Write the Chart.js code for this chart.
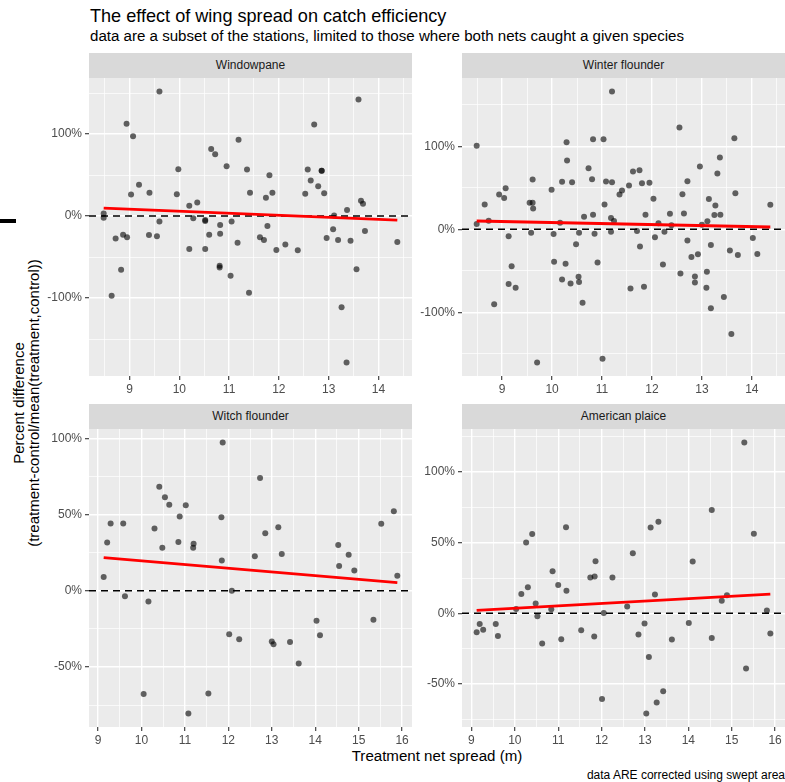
<!DOCTYPE html>
<html>
<head>
<meta charset="utf-8">
<script src="https://cdn.jsdelivr.net/npm/chart.js@4.4.1/dist/chart.umd.min.js"></script>
<style>
  html, body { margin: 0; padding: 0; background: #fff; overflow: hidden; }
  body { width: 785px; height: 782px; position: relative; font-family: "Liberation Sans", Arial, sans-serif; }
  .txt { position: absolute; white-space: nowrap; }
  .strip { position: absolute; background: #D9D9D9; color: #1A1A1A; font-size: 12px; text-align: center; height: 25px; line-height: 25px; }
  canvas { position: absolute; }
</style>
</head>
<body>
<div class="txt" style="left:90px; top:6.5px; font-size:18.1px; line-height:18.1px; color:#000;">The effect of wing spread on catch efficiency</div>
<div class="txt" style="left:90px; top:28px; font-size:15.1px; line-height:15.1px; color:#000;">data are a subset of the stations, limited to those where both nets caught a given species</div>

<div class="txt" style="left:-174.5px; top:387.5px; width:400px; height:30px; font-size:15px; line-height:15px; text-align:center; transform:rotate(-90deg); color:#000;">Percent difference<br>(treatment-control/mean(treatment,control))</div>
<div class="txt" style="left:237px; top:747.5px; width:400px; text-align:center; font-size:15.1px; line-height:15.1px; color:#000;">Treatment net spread (m)</div>
<div class="txt" style="right:0; top:769px; font-size:12px; line-height:12px; color:#000;">data ARE corrected using swept area</div>
<div style="position:absolute; left:0; top:219px; width:16px; height:4px; background:#000;"></div>

<div id="panels"></div>

<script>
// Windowpane
const windowpaneX = [9.60, 13.60, 8.94, 12.71, 9.07, 11.19, 10.64, 10.72, 10.95, 9.98, 11.36, 12.58, 12.86, 12.86, 11.81, 12.64, 12.79, 9.19, 9.03, 9.40, 9.95, 11.42, 11.87, 12.53, 12.91, 11.74, 13.65, 13.69, 10.36, 10.20, 13.37, 8.48, 8.48, 13.11, 10.28, 10.52, 10.52, 9.60, 11.05, 10.82, 11.77, 13.09, 13.73, 8.72, 8.87, 8.95, 9.39, 9.55, 10.60, 10.82, 11.62, 11.70, 12.96, 13.19, 13.44, 14.38, 11.17, 10.20, 10.52, 11.95, 12.13, 12.38, 8.83, 10.81, 10.81, 11.03, 13.56, 8.64, 11.40, 13.26, 13.36];
const windowpaneY = [151.8, 142.1, 112.6, 111.7, 97.2, 93.1, 81.8, 75.3, 60.7, 57.1, 56.7, 56.7, 55.1, 55.1, 49.8, 43.3, 36.4, 38.1, 26.3, 28.3, 26.7, 28.3, 28.3, 27.1, 27.9, 22.3, 18.6, 15.0, 16.6, 12.6, 7.3, 3.2, -2.0, 0.8, -2.8, -4.9, -6.1, -6.5, -6.5, -10.9, -12.1, -16.2, -18.2, -27.5, -22.7, -25.9, -23.1, -24.7, -22.7, -21.5, -25.9, -29.1, -26.7, -29.1, -30.0, -31.6, -32.4, -40.1, -40.1, -41.3, -34.8, -41.7, -65.6, -60.7, -62.8, -72.9, -64.8, -97.2, -93.5, -111.3, -178.5];
const windowpaneFitX = [8.48, 14.38];
const windowpaneFitY = [9.7, -4.9];

// Winter flounder
const winterX = [11.20, 12.55, 8.49, 10.29, 10.82, 11.03, 13.65, 13.36, 10.30, 12.96, 10.73, 11.62, 11.75, 13.31, 9.61, 10.80, 10.20, 10.40, 11.08, 11.20, 11.80, 11.95, 12.71, 11.54, 9.07, 9.99, 11.40, 11.35, 8.94, 9.04, 12.61, 13.67, 8.65, 9.55, 9.61, 9.62, 11.05, 12.03, 13.14, 14.37, 13.27, 13.37, 13.25, 10.64, 10.82, 11.87, 12.36, 12.64, 8.73, 8.49, 10.16, 11.18, 11.24, 12.13, 12.39, 13.00, 13.11, 9.58, 10.03, 10.54, 10.85, 11.18, 11.70, 12.25, 9.13, 12.06, 14.02, 10.48, 11.76, 12.71, 13.18, 13.56, 13.72, 14.11, 12.79, 12.92, 10.04, 10.27, 10.91, 12.22, 9.19, 12.57, 13.10, 10.20, 10.37, 10.53, 10.54, 9.13, 9.27, 11.57, 11.84, 12.86, 12.86, 13.09, 13.44, 10.61, 8.84, 13.18, 13.59, 9.70, 11.01];
const winterY = [166, 122.8, 100.8, 104.8, 108.4, 108.4, 109.6, 86.4, 82.8, 75.6, 73.6, 69.6, 71.2, 67.2, 60, 60.4, 57.2, 56.8, 57.6, 56.8, 55.6, 56, 58, 52.8, 49.6, 47.6, 46.8, 42, 42, 37.6, 42.4, 43.6, 30, 32, 32, 25.2, 30, 36.8, 36.4, 29.6, 28.8, 17.6, 17.2, 15.2, 17.6, 17.6, 18.8, 19.2, 10.4, 6.4, 8, 13.6, 10, 7.2, 4.8, 5.6, 9.6, -4, -5.6, -4, -5.2, -2.8, -2, -2.8, -8.4, -9.6, -10.4, -18, -20.8, -13.6, -18.8, -25.6, -30.8, -29.6, -33.2, -30, -39.2, -41.6, -40, -42.4, -44.4, -53.2, -51.2, -60.4, -65.2, -57.2, -63.6, -66, -70.4, -71.2, -69.2, -56.8, -64, -70.4, -81.6, -88.4, -90.4, -95.2, -126, -160.4, -156];
const winterFitX = [8.49, 14.37];
const winterFitY = [10.0, 2.8];

// Witch flounder
const witchX = [11.87, 12.73, 10.41, 10.54, 10.64, 11.02, 15.81, 10.88, 11.84, 9.29, 9.58, 15.52, 10.30, 13.15, 12.85, 9.21, 10.85, 11.20, 11.19, 10.48, 14.53, 13.23, 12.61, 14.77, 11.85, 14.55, 14.90, 9.13, 15.89, 12.08, 9.62, 10.16, 14.03, 15.34, 12.02, 12.25, 14.11, 13.00, 13.04, 13.42, 13.62, 10.05, 11.54, 11.08];
const witchY = [97.2, 73.9, 68.3, 61.3, 56.5, 56.1, 52.2, 48.7, 48.3, 44.1, 44.1, 43.9, 40.9, 41.7, 37.8, 31.7, 32, 30.9, 28.3, 28.3, 30, 24.1, 22.6, 23.7, 19.8, 16.3, 13.3, 9.1, 9.8, 0, -3.5, -7, -19.6, -18.9, -28.5, -31.7, -29.1, -33.3, -35, -33.5, -47.6, -67.6, -67.4, -80.4];
const witchFitX = [9.13, 15.89];
const witchFitY = [21.7, 5.4];

// American plaice
const plaiceX = [15.29, 14.54, 13.31, 13.13, 11.18, 10.40, 15.51, 10.26, 12.72, 11.86, 14.10, 10.87, 11.74, 11.84, 12.25, 11.00, 10.30, 10.15, 11.19, 13.23, 14.89, 14.77, 10.48, 10.03, 10.84, 12.59, 15.81, 12.05, 10.52, 9.19, 9.56, 12.99, 14.01, 9.12, 9.27, 9.61, 11.53, 11.83, 11.07, 12.85, 13.62, 14.54, 15.89, 10.63, 13.09, 15.33, 13.42, 13.27, 12.01, 13.03];
const plaiceY = [120.9, 73.2, 64.8, 60.8, 61, 56.1, 56.3, 50.2, 42.5, 36.9, 36.6, 29.8, 25.4, 26.1, 25.4, 20, 18.5, 13.6, 16, 13.4, 12.7, 8.9, 7, 3.1, 2.8, 4.9, 1.9, 0.2, -2.1, -7.5, -7.5, -7.3, -6.8, -13.4, -11.7, -16, -12, -16.4, -18.3, -15, -18.5, -17.4, -14.3, -21.4, -31, -39, -55.2, -63.1, -60.6, -70.9];
const plaiceFitX = [9.12, 15.89];
const plaiceFitY = [2.1, 13.6];

const speciesNames = ['Windowpane', 'Winter flounder', 'Witch flounder', 'American plaice'];
const xMajorStep = 1;
const yMajorSteps = [100, 100, 50, 50];

// panel placement (plot area in page pixels) and axis limits
const panels = [
  { xs: windowpaneX, ys: windowpaneY, fx: windowpaneFitX, fy: windowpaneFitY, left: 89, top: 78, xr: [8.185, 14.675], yr: [-195, 168.3] },
  { xs: winterX, ys: winterY, fx: winterFitX, fy: winterFitY, left: 462, top: 78, xr: [8.196, 14.664], yr: [-176.7, 182.3] },
  { xs: witchX, ys: witchY, fx: witchFitX, fy: witchFitY, left: 89, top: 429, xr: [8.792, 16.228], yr: [-89.3, 106.1] },
  { xs: plaiceX, ys: plaiceY, fx: plaiceFitX, fy: plaiceFitY, left: 462, top: 429, xr: [8.782, 16.228], yr: [-80.5, 130.5] }
];
const plotW = 323, plotH = 298, stripH = 25;
const axisW = 50, axisH = 24, padTop = 12, padRight = 12;

const panelDecor = {
  id: 'panelDecor',
  beforeDraw(chart) {
    const a = chart.chartArea, ctx = chart.ctx;
    ctx.save();
    ctx.fillStyle = '#EBEBEB';
    ctx.fillRect(a.left, a.top, a.right - a.left, a.bottom - a.top);
    ctx.restore();
  },
  afterDatasetDraw(chart, args) {
    if (args.index !== 0) return;
    const a = chart.chartArea, ctx = chart.ctx;
    const y = chart.scales.y.getPixelForValue(0);
    ctx.save();
    ctx.setLineDash([7, 5]);
    ctx.lineWidth = 1.6;
    ctx.strokeStyle = '#000';
    ctx.beginPath();
    ctx.moveTo(a.left, y);
    ctx.lineTo(a.right, y);
    ctx.stroke();
    ctx.restore();
  }
};

function near(v, step) {
  const r = v / step;
  return Math.abs(r - Math.round(r)) < 1e-6;
}

const holder = document.getElementById('panels');
panels.forEach((p, i) => {
  const strip = document.createElement('div');
  strip.className = 'strip';
  strip.style.left = p.left + 'px';
  strip.style.top = (p.top - stripH) + 'px';
  strip.style.width = plotW + 'px';
  strip.textContent = speciesNames[i];
  document.body.appendChild(strip);

  const cv = document.createElement('canvas');
  cv.width = plotW + axisW + padRight;
  cv.height = plotH + axisH + padTop;
  cv.style.left = (p.left - axisW) + 'px';
  cv.style.top = (p.top - padTop) + 'px';
  holder.appendChild(cv);

  const yStep = yMajorSteps[i];
  const pts = p.xs.map((x, k) => ({ x: x, y: p.ys[k] }));
  const fit = p.fx.map((x, k) => ({ x: x, y: p.fy[k] }));

  new Chart(cv.getContext('2d'), {
    type: 'scatter',
    data: {
      datasets: [
        { data: pts, order: 1, pointRadius: 3, pointBorderWidth: 0, backgroundColor: 'rgba(0,0,0,0.6)', borderColor: 'rgba(0,0,0,0)' },
        { data: fit, order: 0, showLine: true, pointRadius: 0, borderColor: '#FF0000', borderWidth: 2.8, tension: 0 }
      ]
    },
    options: {
      responsive: false,
      animation: false,
      events: [],
      layout: { padding: { top: padTop, right: padRight, left: 0, bottom: 0 } },
      plugins: { legend: { display: false }, tooltip: { enabled: false } },
      scales: {
        x: {
          type: 'linear',
          min: p.xr[0], max: p.xr[1],
          afterFit(s) { s.height = axisH; },
          border: { display: false },
          grid: {
            color: '#FFFFFF',
            lineWidth: c => near(c.tick.value, xMajorStep) ? 1.4 : 0.7,
            tickLength: 4,
            tickColor: c => near(c.tick.value, xMajorStep) ? '#333333' : 'rgba(0,0,0,0)',
            tickWidth: 1.1
          },
          ticks: {
            stepSize: 0.5,
            includeBounds: false,
            autoSkip: false,
            maxRotation: 0,
            padding: 2,
            color: '#4D4D4D',
            font: { size: 12 },
            callback: v => near(v, xMajorStep) ? String(Math.round(v)) : ''
          }
        },
        y: {
          type: 'linear',
          min: p.yr[0], max: p.yr[1],
          afterFit(s) { s.width = axisW; },
          border: { display: false },
          grid: {
            color: '#FFFFFF',
            lineWidth: c => near(c.tick.value, yStep) ? 1.4 : 0.7,
            tickLength: 4,
            tickColor: c => near(c.tick.value, yStep) ? '#333333' : 'rgba(0,0,0,0)',
            tickWidth: 1.1
          },
          ticks: {
            stepSize: yStep / 2,
            includeBounds: false,
            autoSkip: false,
            padding: 3,
            color: '#4D4D4D',
            font: { size: 12 },
            callback: v => near(v, yStep) ? Math.round(v) + '%' : ''
          }
        }
      }
    },
    plugins: [panelDecor]
  });
});
</script>
</body>
</html>
